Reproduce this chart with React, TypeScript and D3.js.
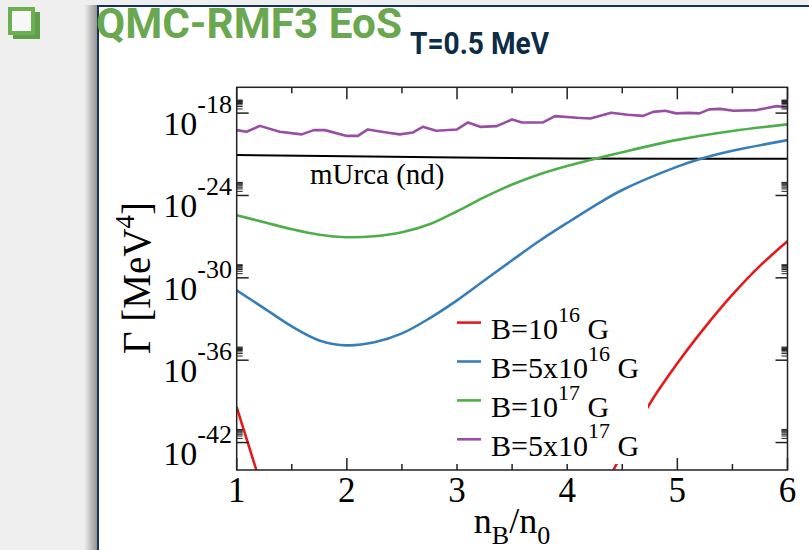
import React from "react";
import * as d3 from "d3";

// ---- data (log10 of Γ in MeV^4 vs n_B/n_0) ----
const redAX = [1.0, 1.1, 1.2];
const redALog = [-39.42, -41.99, -44.56];
const redBX = [4.35, 4.5, 4.75, 5.0, 5.25, 5.5, 5.75, 6.0];
const redBLog = [-45.2, -42.73, -39.17, -36.23, -33.61, -31.23, -29.13, -27.34];

const blueX = [1.0, 1.25, 1.5, 1.75, 2.0, 2.25, 2.5, 2.75, 3.0, 3.25, 3.5, 3.75, 4.0, 4.3, 4.5, 5.0, 5.2, 5.5, 6.0];
const blueLog = [-30.91, -32.22, -33.54, -34.56, -34.92, -34.7, -34.05, -32.95, -31.64, -30.18, -28.72, -27.3, -26.0, -24.5, -23.6, -21.9, -21.36, -20.75, -19.97];

const greenX = [1.0, 1.25, 1.5, 1.75, 2.0, 2.25, 2.5, 2.75, 3.0, 3.25, 3.5, 3.75, 4.0, 4.5, 5.0, 5.5, 6.0];
const greenLog = [-25.44, -25.95, -26.46, -26.86, -27.04, -26.97, -26.68, -26.1, -25.15, -24.12, -23.2, -22.45, -21.85, -20.85, -19.95, -19.3, -18.82];

const purpleX = [1.0, 1.09, 1.21, 1.39, 1.59, 1.7, 1.8, 2.0, 2.1, 2.19, 2.36, 2.48, 2.6, 2.69, 2.81, 3.0, 3.1, 3.21, 3.36, 3.5, 3.59, 3.78, 3.89, 4.09, 4.21, 4.4, 4.55, 4.69, 4.78, 4.89, 4.99, 5.1, 5.2, 5.29, 5.39, 5.51, 5.72, 5.9, 6.0];
const purpleLog = [-19.24, -19.36, -18.93, -19.36, -19.55, -19.24, -19.24, -19.66, -19.66, -19.19, -19.41, -19.55, -19.41, -19.0, -19.29, -19.19, -18.68, -19.0, -18.95, -18.46, -18.68, -18.68, -18.22, -18.34, -18.39, -17.98, -18.12, -18.2, -17.91, -17.83, -18.02, -17.98, -18.02, -17.73, -17.69, -17.83, -17.78, -17.49, -17.58];

const blackX = [1.0, 2.0, 3.0, 4.0, 5.0, 6.0];
const blackLog = [-21.05, -21.15, -21.24, -21.3, -21.32, -21.33];

const xMajorTicks = [1, 2, 3, 4, 5, 6];
const xMinorTicks = [1.5, 2.5, 3.5, 4.5, 5.5];
const yMajorExp = [-42, -36, -30, -24, -18];
const minorMult = [2, 3, 4, 5, 6, 7, 8, 9];

const legendItems = [
  { color: "#e41a1c", pre: "B=", mant: "10", exp: "16" },
  { color: "#377eb8", pre: "B=5x", mant: "10", exp: "16" },
  { color: "#4daf4a", pre: "B=", mant: "10", exp: "17" },
  { color: "#984ea3", pre: "B=5x", mant: "10", exp: "17" },
];

const toPts = (xs: number[], ls: number[]) => xs.map((x, i) => [x, Math.pow(10, ls[i])] as [number, number]);

export default function App() {
  const W = 809, H = 550;
  const left = 236.7, right = 787.5, top = 87.3, bottom = 470;
  const x = d3.scaleLinear().domain([1, 6]).range([left, right]);
  const y = d3.scaleLog().domain([1e-44, Math.pow(10, -16.12)]).range([bottom, top]);

  const smooth = d3.line<[number, number]>().x(d => x(d[0])).y(d => y(d[1])).curve(d3.curveCatmullRom.alpha(0.5));
  const straight = d3.line<[number, number]>().x(d => x(d[0])).y(d => y(d[1]));

  const serif = "'Liberation Serif', 'DejaVu Serif', serif";
  const axisColor = "#222";
  const majLen = 12, minLen = 6;

  const yMinor: number[] = [];
  yMajorExp.forEach(e => minorMult.forEach(k => yMinor.push(k * Math.pow(10, e))));

  return (
    <svg width={W} height={H} style={{ position: "absolute", left: 0, top: 0, display: "block" }}>
      <defs>
        <linearGradient id="shadow" x1="0" x2="1" y1="0" y2="0">
          <stop offset="0" stopColor="#000" stopOpacity="0" />
          <stop offset="1" stopColor="#000" stopOpacity="0.38" />
        </linearGradient>
        <clipPath id="plotClip">
          <rect x={left} y={top} width={right - left} height={bottom - top} />
        </clipPath>
      </defs>
      <rect x={0} y={0} width={W} height={H} fill="#efefef" />
      {/* panel */}
      <rect x={84} y={5} width={13} height={H} fill="url(#shadow)" />
      <rect x={98} y={6} width={W} height={H} fill="#ffffff" stroke="#143656" strokeWidth={2} />
      {/* icon */}
      <rect x={13} y={12} width={27} height={27} fill="#5f9f47" />
      <rect x={8} y={7} width={27} height={28} fill="#6cae52" />
      <rect x={12} y={11} width={19} height={20} fill="#f7f7f7" />
      {/* titles */}
      <text x={96} y={38} fontFamily="Roboto, 'Noto Sans', sans-serif" fontWeight="bold" fontSize={43} fill="#6aa84f" textLength={306} lengthAdjust="spacingAndGlyphs">QMC-RMF3 EoS</text>
      <text x={410} y={54} fontFamily="Roboto, 'Noto Sans', sans-serif" fontWeight="bold" fontSize={31} fill="#0d2c47" textLength={139} lengthAdjust="spacingAndGlyphs">T=0.5 MeV</text>

      {/* curves */}
      <g clipPath="url(#plotClip)" fill="none" strokeLinejoin="round">
        <path d={straight(toPts(blackX, blackLog)) || ""} stroke="#000" strokeWidth={2} />
        <path d={smooth(toPts(redAX, redALog)) || ""} stroke="#e41a1c" strokeWidth={2.6} />
        <path d={smooth(toPts(redBX, redBLog)) || ""} stroke="#e41a1c" strokeWidth={2.6} />
        <path d={smooth(toPts(blueX, blueLog)) || ""} stroke="#377eb8" strokeWidth={2.6} />
        <path d={smooth(toPts(greenX, greenLog)) || ""} stroke="#4daf4a" strokeWidth={2.6} />
        <path d={straight(toPts(purpleX, purpleLog)) || ""} stroke="#984ea3" strokeWidth={2.6} />
      </g>

      {/* ticks */}
      <g stroke={axisColor} strokeWidth={1.5}>
        {xMajorTicks.map(t => (
          <g key={"xM" + t}>
            <line x1={x(t)} x2={x(t)} y1={bottom} y2={bottom - majLen} />
            <line x1={x(t)} x2={x(t)} y1={top} y2={top + majLen} />
          </g>
        ))}
        {xMinorTicks.map(t => (
          <g key={"xm" + t}>
            <line x1={x(t)} x2={x(t)} y1={bottom} y2={bottom - minLen} />
            <line x1={x(t)} x2={x(t)} y1={top} y2={top + minLen} />
          </g>
        ))}
        {yMajorExp.map(e => (
          <g key={"yM" + e}>
            <line x1={left} x2={left + majLen} y1={y(Math.pow(10, e))} y2={y(Math.pow(10, e))} />
            <line x1={right} x2={right - majLen} y1={y(Math.pow(10, e))} y2={y(Math.pow(10, e))} />
          </g>
        ))}
        {yMinor.map((v, i) => (
          <g key={"ym" + i} strokeWidth={1}>
            <line x1={left} x2={left + minLen} y1={y(v)} y2={y(v)} />
            <line x1={right} x2={right - minLen} y1={y(v)} y2={y(v)} />
          </g>
        ))}
      </g>

      {/* legend */}
      <rect x={453} y={307} width={195} height={157} fill="#ffffff" />
      {legendItems.map((it, i) => {
        const base = 339.3 + i * 38.9;
        return (
          <g key={"lg" + i}>
            <line x1={457} x2={481} y1={base - 16.7} y2={base - 16.7} stroke={it.color} strokeWidth={2.6} />
            <text x={491} y={base} fontFamily={serif} fontSize={30} fill="#000">
              {it.pre + it.mant}
              <tspan dy={-17.6} fontSize={22}>{it.exp}</tspan>
              <tspan dy={17.6}>{" G"}</tspan>
            </text>
          </g>
        );
      })}

      {/* frame */}
      <rect x={left} y={top} width={right - left} height={bottom - top} fill="none" stroke={axisColor} strokeWidth={1.5} />

      {/* mUrca label */}
      <text x={310} y={184} fontFamily={serif} fontSize={29} fill="#000">mUrca (nd)</text>

      {/* y tick labels */}
      {yMajorExp.map(e => {
        const ty = y(Math.pow(10, e));
        return (
          <text key={"yl" + e} x={232} y={ty + 22} textAnchor="end" fontFamily={serif} fontSize={34} fill="#000">
            10
            <tspan dy={-22} fontSize={26}>{String(e)}</tspan>
          </text>
        );
      })}
      {/* x tick labels */}
      {xMajorTicks.map(t => (
        <text key={"xl" + t} x={x(t)} y={501.5} textAnchor="middle" fontFamily={serif} fontSize={35} fill="#000">{t}</text>
      ))}

      {/* axis labels */}
      <text x={512} y={533} textAnchor="middle" fontFamily={serif} fontSize={36} fill="#000">
        n<tspan dy={11} fontSize={26}>B</tspan><tspan dy={-11}>/n</tspan><tspan dy={11} fontSize={26}>0</tspan>
      </text>
      <text transform="translate(150,278) rotate(-90)" textAnchor="middle" fontFamily={serif} fontSize={39} fill="#000">
        Γ [MeV<tspan dy={-16} fontSize={27}>4</tspan><tspan dy={16}>]</tspan>
      </text>
    </svg>
  );
}
